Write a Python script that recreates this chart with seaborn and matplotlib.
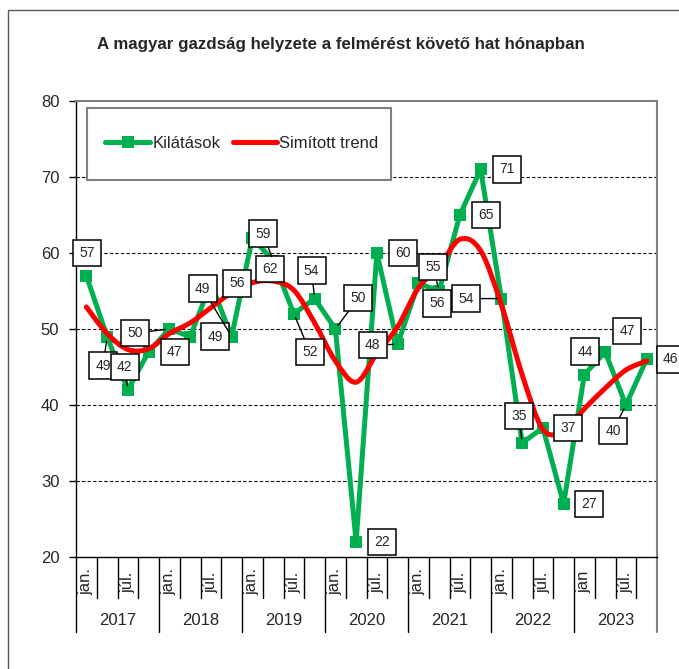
import numpy as np
import pandas as pd
import matplotlib.pyplot as plt
import seaborn as sns
from matplotlib.path import Path
from matplotlib.patches import PathPatch, Rectangle
from matplotlib.lines import Line2D
from matplotlib.transforms import blended_transform_factory

sns.set_style('white')
plt.rcParams['font.family'] = ['Liberation Sans', 'DejaVu Sans']

title = 'A magyar gazdság helyzete a felmérést követő hat hónapban'
years = ['2017', '2018', '2019', '2020', '2021', '2022', '2023']
periods = ['jan.', '', 'júl.', ''] * 6 + ['jan', '', 'júl.', '']
kilatasok = [57, 49, 42, 47, 50, 49, 56, 49, 62, 59, 52, 54, 50, 22,
             60, 48, 56, 55, 65, 71, 54, 35, 37, 27, 44, 47, 40, 46]
trend = [52.9, 49.4, 47.3, 47.4, 49.4, 50.8, 52.8, 54.8, 56.1, 56.3, 55.1, 50.8, 45.8, 43.0,
         46.8, 50.3, 55.4, 58.2, 61.8, 60.3, 53.2, 44.0, 36.8, 36.6, 39.5, 42.2, 44.6, 45.8]

# where the value boxes sit, in pixels from their point (dx, dy up), and if a leader line is drawn
label_pos = [(1, 23, False), (-4, -29, True), (-3, 23, True), (26, 0, False),
             (-34, -4, True), (25, 0, False), (26, 0, False), (-29, 48, True),
             (18, -31, False), (-10, 27, True), (16, -38, True), (-3, 28, True),
             (23, 31, True), (26, 0, False), (26, 0, False), (-25, -1, True),
             (19, -20, False), (-6, 24, True), (26, 0, False), (26, 0, False),
             (-35, 0, True), (-3, 27, True), (25, 0, False), (25, 0, False),
             (1, 23, False), (22, 21, False), (-13, -26, True), (24, 0, False)]

green = '#00B050'
red = '#FF0000'

df = pd.DataFrame({'idx': np.arange(len(kilatasok)), 'kilatasok': kilatasok, 'trend': trend})

W, H = 679, 669
fig = plt.figure(figsize=(W / 100, H / 100), dpi=100)
ax = fig.add_axes([76 / W, 1 - 557 / H, 581 / W, 456 / H])

sns.lineplot(data=df, x='idx', y='kilatasok', ax=ax, color=green, lw=3.6,
             marker='s', markersize=8, markeredgewidth=0, zorder=3, legend=False)

# smoothed trend: bezier path through the trend values
pts = df[['idx', 'trend']].to_numpy(dtype=float)
verts = [pts[0]]
codes = [Path.MOVETO]
n = len(pts)
for i in range(n - 1):
    p0 = pts[max(i - 1, 0)]
    p1 = pts[i]
    p2 = pts[i + 1]
    p3 = pts[min(i + 2, n - 1)]
    verts += [p1 + (p2 - p0) / 6, p2 - (p3 - p1) / 6, p2]
    codes += [Path.CURVE4] * 3
ax.add_patch(PathPatch(Path(verts, codes), fill=False, ec=red, lw=3.6,
                       capstyle='round', joinstyle='round', zorder=4))

ax.set_xlim(-0.5, 27.5)
ax.set_ylim(20, 80)
ax.set_yticks(range(20, 81, 10))
ax.set_xticks([])
ax.set_xlabel('')
ax.set_ylabel('')
ax.tick_params(axis='y', labelsize=12, length=5, width=1, pad=7, left=True, color='black')
for v in range(30, 80, 10):
    ax.axhline(v, color='black', lw=0.8, ls=(0, (3, 2)), zorder=1)

for s in ['left', 'bottom']:
    ax.spines[s].set_color('black')
    ax.spines[s].set_linewidth(1)
ax.spines['top'].set_color('#808080')
ax.spines['top'].set_linewidth(1.5)
ax.spines['right'].set_visible(False)

# category axis below the plot
trans = blended_transform_factory(ax.transData, ax.transAxes)
for k in range(len(kilatasok) + 1):
    xk = k - 0.5
    if k == len(kilatasok):
        ax.plot([xk, xk], [1, -0.1645], transform=trans, color='#808080', lw=1.5, clip_on=False)
    else:
        y1 = -0.1645 if k % 4 == 0 else -0.0899
        ax.plot([xk, xk], [0, y1], transform=trans, color='black', lw=1, clip_on=False)
for i, lab in enumerate(periods):
    if lab:
        ax.text(i, -0.0548, lab, transform=trans, rotation=90, ha='center', va='center', fontsize=12)
for k, yr in enumerate(years):
    ax.text(4 * k + 1.5, -0.140, yr, transform=trans, ha='center', va='center', fontsize=12)

# value labels
for i, v in enumerate(kilatasok):
    dx, dy, leader = label_pos[i]
    kw = {}
    if leader:
        kw['arrowprops'] = dict(arrowstyle='-', color='black', lw=1, shrinkA=0, shrinkB=3)
    ax.annotate(str(v), xy=(i, v), xytext=(dx, dy), textcoords='offset pixels',
                ha='center', va='center', fontsize=10, zorder=6, annotation_clip=False,
                bbox=dict(boxstyle='square,pad=0.45', fc='white', ec='black', lw=1.1), **kw)

# legend
ax.add_patch(Rectangle((87 / W, 1 - 180 / H), 304 / W, 72 / H, transform=fig.transFigure,
                       fc='white', ec='#808080', lw=1.5, zorder=4.9, clip_on=False))
handles = [Line2D([], [], color=green, lw=3.6, marker='s', markersize=8, markeredgewidth=0),
           Line2D([], [], color=red, lw=3.6)]
ax.legend(handles, ['Kilátások', 'Simított trend'], loc='center',
          bbox_to_anchor=(242 / W, 1 - 143 / H), bbox_transform=fig.transFigure,
          ncol=2, frameon=False, fontsize=12, numpoints=1, handlelength=2.65,
          handletextpad=0.15, columnspacing=0.75)

fig.text(341 / W, 1 - 44 / H, title, ha='center', va='center', fontsize=12.2, fontweight='bold')

fig.add_artist(Rectangle((8 / W, -0.05), 1.1, 1 - 10 / H + 0.05, transform=fig.transFigure,
                         fill=False, ec='#595959', lw=1))

fig.savefig('out.png', dpi=100)
